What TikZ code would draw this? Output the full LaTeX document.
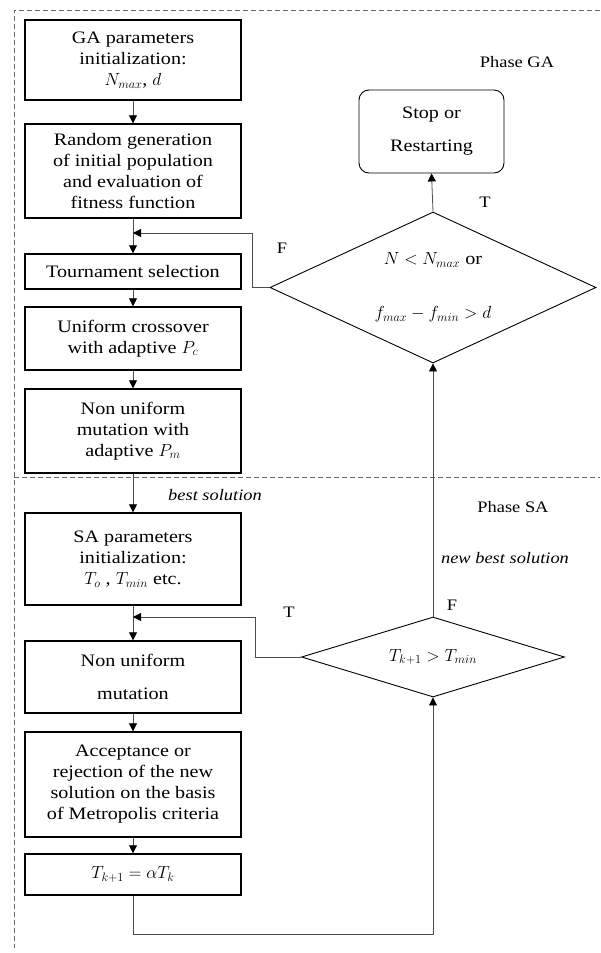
\RequirePackage{fix-cm}
\documentclass[tikz,border=0pt]{standalone}
\usepackage{fontspec}
\setmainfont{Liberation Serif}[FakeStretch=1.15]
\usetikzlibrary{shapes.geometric,arrows.meta}
\begin{document}
\begin{tikzpicture}[x=1pt,y=-1pt,
  box/.style={draw, line width=1.4pt, minimum width=216pt, align=center, inner sep=1pt, font=\fontsize{17.5}{21}\selectfont},
  arr/.style={-{Triangle[length=8pt,width=8pt,color=black]}, line width=0.8pt, draw=black!70},
  lbl/.style={font=\fontsize{16}{19}\selectfont, inner sep=0pt},
  ilbl/.style={font=\fontsize{16}{19}\selectfont\itshape, inner sep=0pt},
  dec/.style={draw, diamond, shape aspect=2.4, inner sep=0pt, line width=0.9pt, align=center, font=\fontsize{17.5}{21}\selectfont},
  dashline/.style={draw=black!60, line width=0.8pt, dash pattern=on 5pt off 3pt}]
\useasboundingbox (0,0) rectangle (600,953);
% phase borders
\draw[dashline] (600,10) -- (14,10) -- (14,948);
\draw[dashline] (14,477) -- (600,477);
% left column
\node[box, minimum height=80pt] (b1) at (133,60) {GA parameters\\initialization:\\$N_{max}$, $d$};
\node[box, minimum height=94pt] (b2) at (133,171) {Random generation\\of initial population\\and evaluation of\\fitness function};
\node[box, minimum height=35pt] (b3) at (133,271.5) {Tournament selection};
\node[box, minimum height=63pt] (b4) at (133,338.5) {Uniform crossover\\with adaptive $P_c$};
\node[box, minimum height=84pt] (b5) at (133,431) {Non uniform\\mutation with\\adaptive $P_m$};
\node[box, minimum height=92pt] (b6) at (133,559) {SA parameters\\initialization:\\$T_o$ , $T_{min}$ etc.};
\node[box, minimum height=72pt] (b7) at (133,677) {Non uniform\\[12pt]mutation};
\node[box, minimum height=105pt] (b8) at (133,784.5) {Acceptance or\\rejection of the new\\solution on the basis\\of Metropolis criteria};
\node[box, minimum height=41pt] (b9) at (133,874.5) {$T_{k+1}=\alpha T_k$};
% right column
\node[draw, rounded corners=10pt, line width=0.9pt, minimum width=145pt, minimum height=83pt, align=center, font=\fontsize{17.5}{21}\selectfont] (stop) at (431.5,131.5) {Stop or\\[12pt]Restarting};
\node[dec, minimum width=326pt, minimum height=151pt] (d1) at (433,287.5) {$N<N_{max}$ or\\[33pt]$f_{max}-f_{min}>d$};
\node[dec, minimum width=263pt, minimum height=80pt] (d2) at (433,657) {$T_{k+1}>T_{min}$};
% labels
\node[lbl] (pga) at (517,62) {Phase GA};
\node[lbl] (t1) at (485,202) {T};
\node[lbl] (f1) at (282,248) {F};
\node[ilbl] (bs) at (215,495) {best solution};
\node[lbl] (psa) at (513,507) {Phase SA};
\node[ilbl] (nbs) at (505,558) {new best solution};
\node[lbl] (t2) at (289,612) {T};
\node[lbl] (f2) at (452,605) {F};
% helper coordinates
\coordinate (j1) at (133,233);
\coordinate (k1) at (252,233);
\coordinate (j2) at (133,617);
\coordinate (k2) at (255,617);
\coordinate (j3) at (133,934);
% connectors
\draw[arr] (b1.south) -- (b2.north);
\draw[arr] (b2.south) -- (b3.north);
\draw[arr] (b3.south) -- (b4.north);
\draw[arr] (b4.south) -- (b5.north);
\draw[arr] (b5.south) -- (b6.north);
\draw[arr] (b6.south) -- (b7.north);
\draw[arr] (b7.south) -- (b8.north);
\draw[arr] (b8.south) -- (b9.north);
\draw[arr] (d1.west) -| (k1) -- (j1);
\draw[arr] (d2.west) -| (k2) -- (j2);
\draw[arr] (b9.south) -- (j3) -| (d2.south);
\draw[arr] (d2.north) -- (d1.south);
\draw[arr] (d1.north) -- (stop.south);
\end{tikzpicture}
\end{document}
